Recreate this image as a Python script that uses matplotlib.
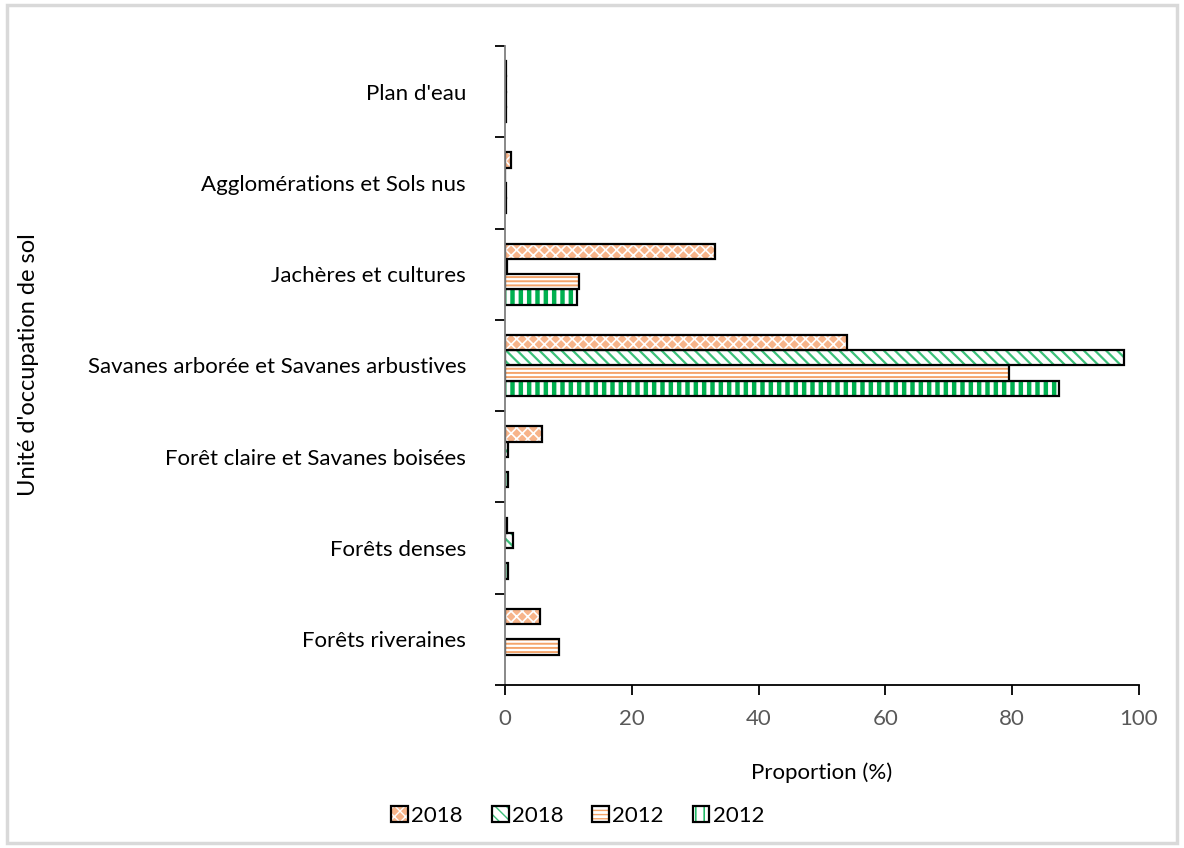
import numpy as np
import matplotlib
matplotlib.use("Agg")
import matplotlib.pyplot as plt
from matplotlib.patches import Patch, Rectangle
from matplotlib.legend_handler import HandlerTuple

plt.rcParams['font.family'] = ['Lato', 'DejaVu Sans']

# Data (bottom to top in the chart)
categories = ["Forêts riveraines", "Forêts denses", "Forêt claire et Savanes boisées",
              "Savanes arborée et Savanes arbustives", "Jachères et cultures",
              "Agglomérations et Sols nus", "Plan d'eau"]
v2012_green = [0.0, 0.4, 0.4, 87.4, 11.4, 0.1, 0.1]
v2012_orange = [8.5, 0.0, 0.0, 79.5, 11.7, 0.1, 0.1]
v2018_green = [0.0, 1.3, 0.5, 97.6, 0.3, 0.05, 0.2]
v2018_orange = [5.6, 0.25, 5.9, 53.9, 33.1, 0.95, 0.1]

# series as Excel stacks them: first series at the bottom of each group
series = [
    ("2012", v2012_green, dict(face="white", hcol="#00B050", hatch="||", hlw=3.2)),
    ("2012", v2012_orange, dict(face="white", hcol="#F4A46A", hatch="----", hlw=1.4)),
    ("2018", v2018_green, dict(face="white", hcol="#3CC07A", hatch="\\\\\\", hlw=1.6)),
    ("2018", v2018_orange, dict(face="#F7B48A", hcol="white", hatch="xxx", hlw=1.2)),
]

fs = 16

fig = plt.figure(figsize=(11.84, 8.48), dpi=100)
fig.patches.append(Rectangle((0.006, 0.006), 0.988, 0.988, transform=fig.transFigure,
                             fill=False, edgecolor="#D9D9D9", linewidth=2.5))
ax = fig.add_axes([0.4265, 0.1922, 0.5355, 0.7536])

y = np.arange(len(categories))
h = (1 / 1.5) / 4
handles = []
for i, (lab, vals, st) in enumerate(series):
    pos = y - 2 * h + h / 2 + i * h
    vals = np.array(vals)
    with plt.rc_context({'hatch.linewidth': st["hlw"]}):
        ax.barh(pos, vals, height=h, color=st["face"], edgecolor=st["hcol"],
                hatch=st["hatch"], linewidth=0)
        fill = Patch(facecolor=st["face"], edgecolor=st["hcol"], hatch=st["hatch"], linewidth=0)
    outline = Patch(fill=False, edgecolor="black", linewidth=1.6)
    handles.append((fill, outline))
    nz = vals > 0
    ax.barh(pos[nz], vals[nz], height=h, fill=False, edgecolor="black", linewidth=1.6)

ax.set_xlim(0, 100)
ax.set_ylim(-0.5, len(categories) - 0.5)
ax.set_xticks(np.arange(0, 101, 20))
ax.set_yticks(y)
ax.set_yticklabels(categories, fontsize=fs, color="black")
ax.set_yticks(np.arange(-0.5, len(categories)), minor=True)
ax.tick_params(axis="y", which="major", length=0, pad=28)
ax.tick_params(axis="y", which="minor", length=7, width=1.3, color="black")
ax.tick_params(axis="x", length=7, width=1.3, color="black", labelsize=fs,
               labelcolor="#595959", pad=10)
for s in ["top", "right"]:
    ax.spines[s].set_visible(False)
ax.spines["left"].set_color("#7F7F7F")
ax.spines["left"].set_linewidth(1.3)
ax.spines["bottom"].set_color("black")
ax.spines["bottom"].set_linewidth(1.3)

ax.set_xlabel("Proportion (%)", fontsize=fs, labelpad=24)
fig.text(0.024, 0.57, "Unité d'occupation de sol", rotation=90, fontsize=17,
         ha="center", va="center")

# legend order as in reference
leg_handles = [handles[3], handles[2], handles[1], handles[0]]
leg_labels = ["2018", "2018", "2012", "2012"]
fig.legend(leg_handles, leg_labels, loc="center", bbox_to_anchor=(0.488, 0.038), ncol=4,
           frameon=False, fontsize=fs, handlelength=0.75, handleheight=0.75,
           handletextpad=0.15, columnspacing=1.3,
           handler_map={tuple: HandlerTuple(ndivide=1)})

fig.savefig("out.png", dpi=100)
